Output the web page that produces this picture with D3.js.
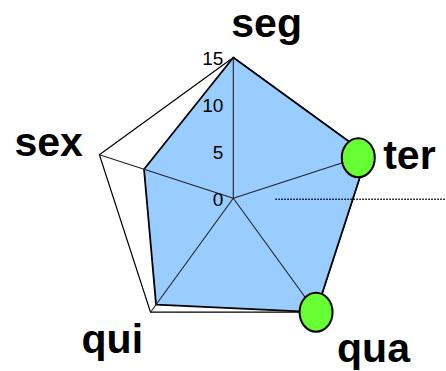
<!DOCTYPE html>
<html>
<head>
<meta charset="utf-8">
<script src="https://cdn.jsdelivr.net/npm/d3@7"></script>
<style>
  html, body { margin: 0; padding: 0; background: #fff; }
  svg { display: block; font-family: Arial, "Liberation Sans", sans-serif; }
</style>
</head>
<body>
<div id="chart"></div>
<script>
// Radar chart data
const categories = ['seg', 'ter', 'qua', 'qui', 'sex'];
const maxValues = [15, 15, 15, 15, 15];
const areaValues = [15, 15, 15, 14, 10];
const markerValues = [null, 14, 15, null, null];
const tickValues = [0, 5, 10, 15];

const width = 446;
const height = 371;
const cx = 233.3;
const cy = 198.3;

const svg = d3.select('#chart').append('svg')
    .attr('width', width)
    .attr('height', height);

const r = d3.scaleLinear().domain([0, 15]).range([0, 140.8]);
const angle = d3.scalePoint().domain(categories.concat('_')).range([0, 2 * Math.PI]);

function point(cat, v) {
    const a = angle(cat);
    return [cx + r(v) * Math.sin(a), cy - r(v) * Math.cos(a)];
}

const pts = vals => categories.map((c, i) => point(c, vals[i]));

// outer frame
svg.append('polygon')
    .attr('points', pts(maxValues).join(' '))
    .attr('fill', '#fff')
    .attr('stroke', '#000')
    .attr('stroke-width', 1.2);

// data area
svg.append('polygon')
    .attr('points', pts(areaValues).join(' '))
    .attr('fill', '#99ccff')
    .attr('stroke', '#000')
    .attr('stroke-width', 1.8)
    .attr('stroke-linejoin', 'round');

// spokes
svg.selectAll('.spoke')
    .data(categories)
    .enter().append('line')
    .attr('class', 'spoke')
    .attr('x1', cx).attr('y1', cy)
    .attr('x2', d => point(d, 15)[0])
    .attr('y2', d => point(d, 15)[1])
    .attr('stroke', '#222')
    .attr('stroke-width', 1.1);

// dotted line from the centre to the right edge
svg.append('line')
    .attr('x1', cx + 42).attr('x2', width)
    .attr('y1', cy + 1).attr('y2', cy + 1)
    .attr('stroke', '#000')
    .attr('stroke-width', 1.5)
    .attr('stroke-dasharray', '1.5,1.5');

// markers
svg.selectAll('.marker')
    .data(categories.map((c, i) => ({ c, v: markerValues[i] })).filter(d => d.v !== null))
    .enter().append('ellipse')
    .attr('class', 'marker')
    .attr('cx', d => point(d.c, d.v)[0])
    .attr('cy', d => point(d.c, d.v)[1])
    .attr('rx', 16.5)
    .attr('ry', 19.5)
    .attr('fill', '#66ff33')
    .attr('stroke', '#000')
    .attr('stroke-width', 2);

// tick labels along the top spoke
svg.selectAll('.tick')
    .data(tickValues)
    .enter().append('text')
    .attr('class', 'tick')
    .attr('x', cx - 10)
    .attr('y', d => cy - r(d) + 1)
    .attr('text-anchor', 'end')
    .attr('dominant-baseline', 'central')
    .attr('font-size', 19)
    .text(d => d);

// category labels (offsets from each outer vertex)
const labelOffsets = {
    seg: [-2, -21, 'start'],
    ter: [16, 14, 'start'],
    qua: [21, 50, 'start'],
    qui: [-7.5, 41, 'end'],
    sex: [-16.5, 1, 'end']
};

svg.selectAll('.cat')
    .data(categories)
    .enter().append('text')
    .attr('class', 'cat')
    .attr('x', d => point(d, 15)[0] + labelOffsets[d][0])
    .attr('y', d => point(d, 15)[1] + labelOffsets[d][1])
    .attr('text-anchor', d => labelOffsets[d][2])
    .attr('font-size', 41)
    .attr('font-weight', 'bold')
    .text(d => d);
</script>
</body>
</html>
